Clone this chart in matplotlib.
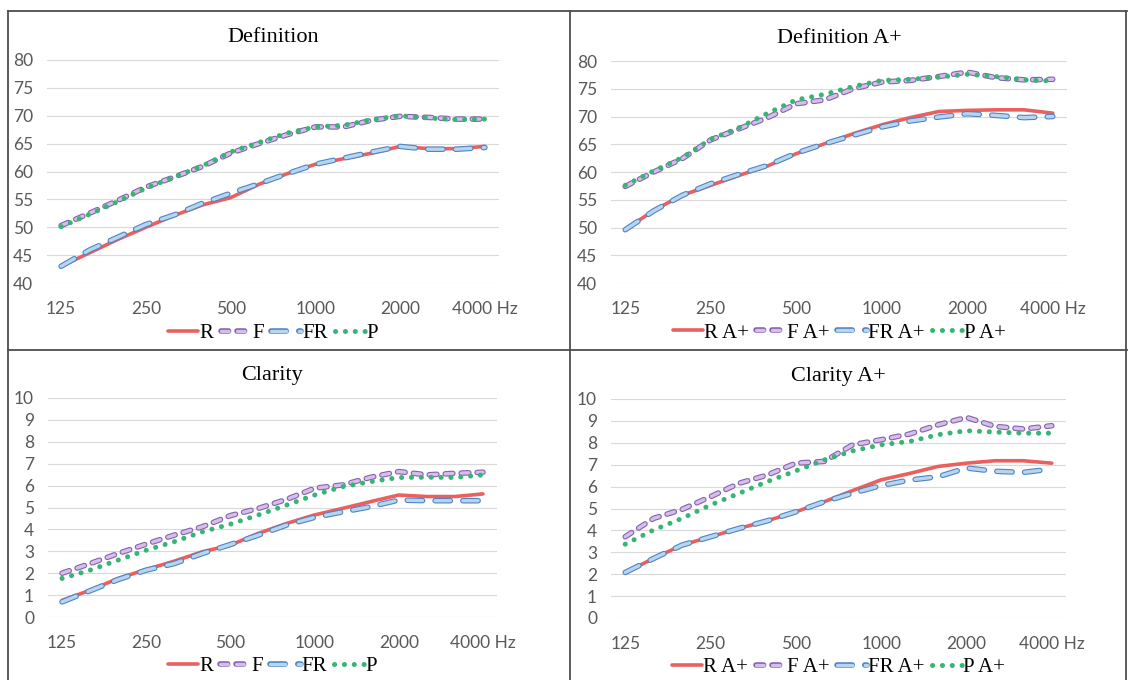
"""Definition / Clarity の周波数特性（1/3オクターブ）を4枚のパネルで描くスクリプト。

出力:
    - out.png
"""

from __future__ import annotations

import matplotlib

matplotlib.use("Agg")
import matplotlib.pyplot as plt
import matplotlib.patheffects as pe
from matplotlib.lines import Line2D

plt.rcParams["lines.scale_dashes"] = False

# 1/3オクターブ帯域
FREQS = ["125", "160", "200", "250", "315", "400", "500", "630",
         "800", "1000", "1250", "1600", "2000", "2500", "3150", "4000"]
TICK_FREQS = ["125", "250", "500", "1000", "2000", "4000"]
TICK_LABELS = ["125", "250", "500", "1000", "2000", "4000 Hz"]

# Definition
DEF_R = [43.0, 45.4, 47.8, 50.0, 52.1, 54.0, 55.3, 57.7, 59.6, 61.3, 62.3, 63.3, 64.5, 64.1, 64.1, 64.5]
DEF_F = [50.3, 52.5, 54.8, 57.2, 59.0, 60.9, 63.3, 65.0, 66.6, 68.0, 68.0, 69.2, 69.9, 69.7, 69.4, 69.4]
DEF_FR = [43.0, 45.9, 48.2, 50.5, 52.2, 54.3, 56.1, 57.8, 59.6, 61.3, 62.4, 63.5, 64.5, 64.0, 64.0, 64.3]
DEF_P = [50.1, 52.3, 54.6, 57.0, 59.0, 61.0, 63.5, 65.2, 66.9, 68.0, 68.3, 69.3, 70.0, 69.6, 69.3, 69.4]

# Definition A+
DEFA_R = [49.6, 53.1, 55.8, 57.6, 59.4, 61.1, 63.3, 65.1, 66.9, 68.5, 69.8, 70.9, 71.1, 71.2, 71.2, 70.6]
DEFA_F = [57.4, 60.0, 62.4, 65.8, 67.8, 69.8, 72.3, 73.0, 75.0, 76.2, 76.5, 77.2, 78.0, 77.0, 76.6, 76.7]
DEFA_FR = [49.6, 53.0, 55.8, 57.9, 59.6, 61.2, 63.4, 65.1, 66.6, 68.1, 69.2, 69.9, 70.5, 70.2, 69.8, 70.0]
DEFA_P = [57.6, 60.2, 62.6, 65.9, 68.0, 70.6, 73.0, 74.0, 75.4, 76.5, 76.7, 77.1, 77.6, 77.2, 76.6, 76.4]

# Clarity
CLA_R = [0.76, 1.22, 1.76, 2.17, 2.55, 2.98, 3.28, 3.82, 4.27, 4.66, 4.96, 5.27, 5.57, 5.50, 5.50, 5.62]
CLA_F = [2.00, 2.44, 2.90, 3.33, 3.74, 4.12, 4.63, 4.96, 5.37, 5.88, 6.03, 6.38, 6.64, 6.49, 6.56, 6.61]
CLA_FR = [0.69, 1.20, 1.71, 2.14, 2.44, 2.90, 3.31, 3.74, 4.20, 4.55, 4.80, 5.04, 5.34, 5.31, 5.31, 5.31]
CLA_P = [1.76, 2.14, 2.60, 3.05, 3.44, 3.89, 4.24, 4.66, 5.11, 5.57, 5.95, 6.18, 6.37, 6.38, 6.37, 6.49]

# Clarity A+
CLAA_R = [2.08, 2.72, 3.33, 3.71, 4.09, 4.44, 4.85, 5.31, 5.82, 6.31, 6.60, 6.92, 7.07, 7.18, 7.18, 7.07]
CLAA_F = [3.71, 4.55, 4.96, 5.54, 6.15, 6.53, 7.07, 7.15, 7.91, 8.14, 8.40, 8.82, 9.16, 8.75, 8.63, 8.78]
CLAA_FR = [2.08, 2.72, 3.33, 3.71, 4.09, 4.44, 4.85, 5.31, 5.70, 6.05, 6.30, 6.45, 6.85, 6.70, 6.65, 6.80]
CLAA_P = [3.37, 4.02, 4.55, 5.16, 5.69, 6.23, 6.72, 7.22, 7.63, 7.91, 8.06, 8.37, 8.55, 8.49, 8.44, 8.44]

# 系列ごとの線スタイル
STYLES = {
    "R": dict(color="#E9605F", lw=2.6, ls="-", solid_capstyle="round"),
    "F": dict(color="#D6BEEB", lw=2.4, dashes=(5.5, 6.0), dash_capstyle="round",
              path_effects=[pe.Stroke(linewidth=4.0, foreground="#8461AE"), pe.Normal()]),
    "FR": dict(color="#B8D5F0", lw=2.4, dashes=(11.0, 9.0), dash_capstyle="round",
               path_effects=[pe.Stroke(linewidth=4.0, foreground="#4F84C2"), pe.Normal()]),
    "P": dict(color="#37B574", lw=3.6, dashes=(0.1, 7.0), dash_capstyle="round"),
}

TICK_COLOR = "#595959"
SERIF = ["Liberation Serif", "DejaVu Serif"]


def draw_panel(fig, rect, title, series, suffix, ylim, yticks):
    """1枚のパネルを描画する。"""
    ax = fig.add_axes(rect)
    x = list(range(len(FREQS)))
    for name, values in series:
        ax.plot(x, values, label=name + suffix, **STYLES[name])

    ax.set_xlim(-0.5, len(FREQS) - 0.5)
    ax.set_ylim(*ylim)
    ax.set_yticks(yticks)
    ax.set_xticks([FREQS.index(f) for f in TICK_FREQS])
    ax.set_xticklabels(TICK_LABELS)
    ax.tick_params(axis="both", length=0, labelsize=12.5, labelcolor=TICK_COLOR)
    ax.tick_params(axis="y", pad=10)
    ax.tick_params(axis="x", pad=13)
    for lab in ax.get_xticklabels() + ax.get_yticklabels():
        lab.set_family(["Lato", "DejaVu Sans"])

    ax.grid(axis="y", color="#D9D9D9", lw=0.8)
    ax.set_axisbelow(True)
    for sp in ax.spines.values():
        sp.set_visible(False)

    ax.set_title(title, fontsize=16, family=SERIF, pad=13)
    ax.legend(loc="center", bbox_to_anchor=(0.5, -0.225), ncol=4, frameon=False,
              prop={"family": SERIF, "size": 15}, handlelength=1.45,
              handletextpad=0.05, columnspacing=0.35)
    return ax


def main() -> None:
    fig = plt.figure(figsize=(11.28, 6.8), dpi=100)
    W, H = 1128, 680

    def rect(x0, y0, x1, y1):
        return [x0 / W, 1 - y1 / H, (x1 - x0) / W, (y1 - y0) / H]

    draw_panel(fig, rect(47, 60, 499, 283), "Definition",
               [("R", DEF_R), ("F", DEF_F), ("FR", DEF_FR), ("P", DEF_P)],
               "", (40, 80), range(40, 81, 5))
    draw_panel(fig, rect(611, 61, 1067, 283), "Definition A+",
               [("R", DEFA_R), ("F", DEFA_F), ("FR", DEFA_FR), ("P", DEFA_P)],
               " A+", (40, 80), range(40, 81, 5))
    draw_panel(fig, rect(48, 398, 497, 617), "Clarity",
               [("R", CLA_R), ("F", CLA_F), ("FR", CLA_FR), ("P", CLA_P)],
               "", (0, 10), range(0, 11))
    draw_panel(fig, rect(611, 399, 1066, 618), "Clarity A+",
               [("R", CLAA_R), ("F", CLAA_F), ("FR", CLAA_FR), ("P", CLAA_P)],
               " A+", (0, 10), range(0, 11))

    # パネルの枠線
    border = dict(color="#4D4D4D", lw=1.3, transform=None)
    for xs, ys in [((8, 1127), (11, 11)), ((8, 1127), (350, 350)),
                   ((8, 8), (11, 680)), ((570, 570), (11, 680)),
                   ((1126, 1126), (11, 680))]:
        fig.add_artist(Line2D(list(xs), [H - y for y in ys], **border))

    fig.savefig("out.png", dpi=100)
    plt.close(fig)


if __name__ == "__main__":
    main()
